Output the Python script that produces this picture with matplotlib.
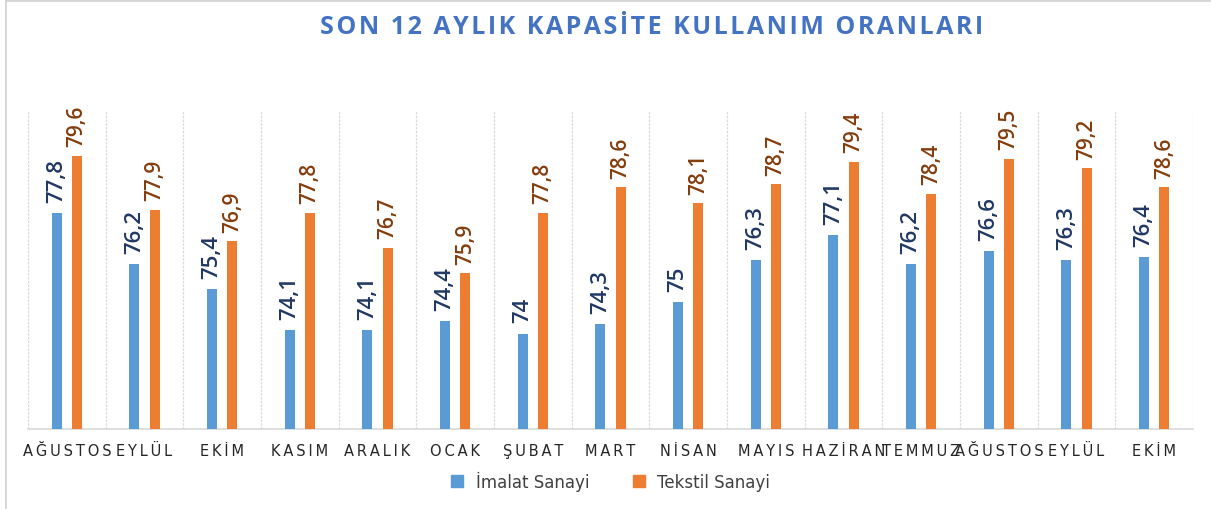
import numpy as np
import matplotlib
matplotlib.use("Agg")
import matplotlib.pyplot as plt
from matplotlib.lines import Line2D

months = ["AĞUSTOS", "EYLÜL", "EKİM", "KASIM", "ARALIK", "OCAK", "ŞUBAT", "MART",
          "NİSAN", "MAYIS", "HAZİRAN", "TEMMUZ", "AĞUSTOS", "EYLÜL", "EKİM"]
imalat = [77.8, 76.2, 75.4, 74.1, 74.1, 74.4, 74.0, 74.3, 75.0, 76.3, 77.1, 76.2, 76.6, 76.3, 76.4]
tekstil = [79.6, 77.9, 76.9, 77.8, 76.7, 75.9, 77.8, 78.6, 78.1, 78.7, 79.4, 78.4, 79.5, 79.2, 78.6]
series_names = ["İmalat Sanayi", "Tekstil Sanayi"]

BLUE, ORANGE = "#5B9BD5", "#ED7D31"
BLUE_TXT, ORANGE_TXT = "#203864", "#843C0C"


def fmt(v):
    s = f"{v:.1f}".replace(".", ",")
    return s[:-2] if s.endswith(",0") else s


def spaced(s, sep="\u2009"):
    return sep.join(s)


fig = plt.figure(figsize=(12.11, 5.10), dpi=100)
ax = fig.add_axes([28 / 1211, 1 - 430 / 510, (1193 - 28) / 1211, (430 - 112) / 510])

x = np.arange(len(months))
w = 0.13
ax.bar(x - w, imalat, w, color=BLUE, zorder=3)
ax.bar(x + w, tekstil, w, color=ORANGE, zorder=3)
ax.set_ylim(71, 81)
ax.set_xlim(-0.5, len(months) - 0.5)

for xi, v in zip(x, imalat):
    ax.text(xi - w, v + 0.35, fmt(v), rotation=90, ha="center", va="bottom",
            fontsize=16, fontweight="semibold", family=["Open Sans", "DejaVu Sans"],
            color=BLUE_TXT, zorder=4)
for xi, v in zip(x, tekstil):
    ax.text(xi + w, v + 0.3, fmt(v), rotation=90, ha="center", va="bottom",
            fontsize=15, fontweight="semibold", family=["Open Sans", "DejaVu Sans"],
            color=ORANGE_TXT, zorder=4)

for b in np.arange(len(months) + 1) - 0.5:
    ax.axvline(b, color="#D9D9D9", lw=0.9, ls=(0, (2, 1)), zorder=1)

for s in ["top", "right", "left"]:
    ax.spines[s].set_visible(False)
ax.spines["bottom"].set_color("#D9D9D9")
ax.spines["bottom"].set_linewidth(1.2)
ax.set_yticks([])
ax.set_xticks(x)
ax.set_xticklabels([spaced(m) for m in months], fontsize=10.5, color="#262626")
ax.tick_params(axis="x", length=0, pad=10)

fig.text(652 / 1211, 1 - 27 / 510, spaced("SON 12 AYLIK KAPASİTE KULLANIM ORANLARI", "\u200a"),
         ha="center", va="center", fontsize=18, fontweight="bold", color="#4472C4",
         family="Open Sans")

handles = [Line2D([], [], marker="s", ls="", color=BLUE, markersize=8),
           Line2D([], [], marker="s", ls="", color=ORANGE, markersize=8)]
fig.legend(handles, series_names, loc="center", bbox_to_anchor=(0.5, 1 - 482 / 510),
           ncol=2, frameon=False, fontsize=12, handletextpad=0.1, columnspacing=2.0,
           labelcolor="#404040")

# thin grey chart frame (left/top edges visible)
fig.add_artist(Line2D([6 / 1211, 6 / 1211], [0, 1 - 2 / 510], transform=fig.transFigure,
                      color="#D0D0D0", lw=1.2))
fig.add_artist(Line2D([6 / 1211, 1], [1 - 2 / 510, 1 - 2 / 510], transform=fig.transFigure,
                      color="#D0D0D0", lw=1.2))

fig.savefig("out.png", dpi=100)
